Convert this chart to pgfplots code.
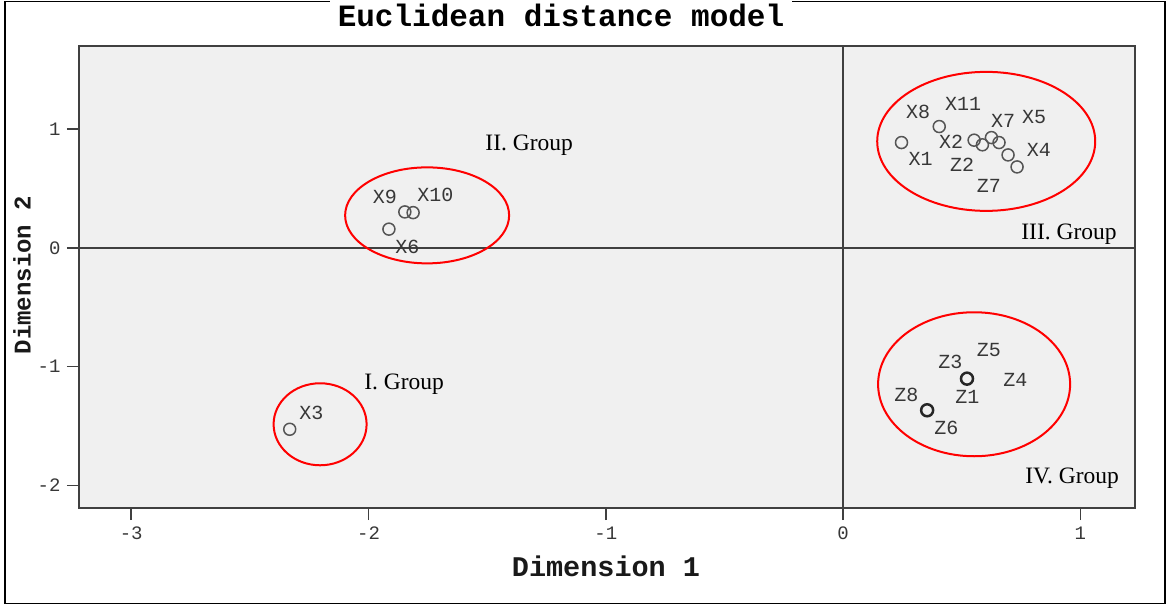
\documentclass[border=0pt]{standalone}
\usepackage{pgfplots}
\pgfplotsset{compat=1.18}
\usepackage{fontspec}
\setmainfont{Liberation Serif}
\setmonofont{Liberation Mono}
\definecolor{axgray}{RGB}{64,64,64}
\definecolor{bggray}{RGB}{240,240,240}
\definecolor{ptgray}{RGB}{85,85,85}
\definecolor{labgray}{RGB}{55,55,55}
\begin{document}
\begin{tikzpicture}[x=1pt,y=1pt]
\useasboundingbox (0,0) rectangle (1168,-606);
\begin{scope}
\clip (0,0) rectangle (1168,-606);
\draw[black, line width=1.5pt] (5,-1.5) rectangle (1165,-603.5);
\begin{axis}[
  at={(79pt,-508pt)}, anchor=south west,
  scale only axis, width=1056pt, height=462pt,
  xmin=-3.22, xmax=1.23, ymin=-2.19, ymax=1.70,
  axis background/.style={fill=bggray},
  axis line style={axgray, line width=2pt},
  xtick={-3,-2,-1,0,1}, ytick={-2,-1,0,1},
  tick pos=left, tick align=outside, major tick length=12pt,
  tick style={axgray, line width=1.5pt},
  tick label style={font=\ttfamily\fontsize{19}{19}\selectfont, text=labgray},
  xticklabel style={yshift=-3pt},
  yticklabel style={xshift=-3pt},
  /pgf/number format/assume math mode=true,
  clip=false,
]
\draw[axgray, line width=1.5pt] (axis cs:0,-2.19) -- (axis cs:0,1.70);
\draw[axgray, line width=1.5pt] (axis cs:-3.22,0) -- (axis cs:1.23,0);

% Group III
\addplot[only marks, mark=o, mark size=6pt, mark options={ptgray, line width=1.5pt}] coordinates {
(0.246,0.887) (0.405,1.022) (0.552,0.907) (0.587,0.868) (0.625,0.929) (0.657,0.887) (0.695,0.783) (0.733,0.682)
};
% Group II
\addplot[only marks, mark=o, mark size=6pt, mark options={ptgray, line width=1.5pt}] coordinates {
(-1.847,0.303) (-1.812,0.297) (-1.914,0.158)
};
% Group I
\addplot[only marks, mark=o, mark size=6pt, mark options={ptgray, line width=1.5pt}] coordinates {
(-2.332,-1.527)
};
% Group IV
\addplot[only marks, mark=o, mark size=6pt, mark options={black!85, line width=2.5pt}] coordinates {
(0.522,-1.101) (0.354,-1.367)
};

\tikzset{plab/.style={font=\ttfamily\fontsize{20}{20}\selectfont, text=labgray}}
\node[plab] at (axis cs:0.316,1.148) {X8};
\node[plab] at (axis cs:0.506,1.213) {X11};
\node[plab] at (axis cs:0.674,1.070) {X7};
\node[plab] at (axis cs:0.805,1.106) {X5};
\node[plab] at (axis cs:0.455,0.893) {X2};
\node[plab] at (axis cs:0.825,0.823) {X4};
\node[plab] at (axis cs:0.327,0.747) {X1};
\node[plab] at (axis cs:0.501,0.699) {Z2};
\node[plab] at (axis cs:0.614,0.522) {Z7};
\node[plab] at (axis cs:0.614,-0.859) {Z5};
\node[plab] at (axis cs:0.452,-0.960) {Z3};
\node[plab] at (axis cs:0.726,-1.112) {Z4};
\node[plab] at (axis cs:0.267,-1.238) {Z8};
\node[plab] at (axis cs:0.524,-1.255) {Z1};
\node[plab] at (axis cs:0.435,-1.514) {Z6};
\node[plab] at (axis cs:-1.931,0.432) {X9};
\node[plab] at (axis cs:-1.718,0.444) {X10};
\node[plab] at (axis cs:-1.836,0.011) {X6};
\node[plab] at (axis cs:-2.241,-1.386) {X3};

\draw[red, line width=2pt] (axis cs:0.603,0.897) ellipse [x radius=109pt, y radius=69.5pt];
\draw[red, line width=2pt] (axis cs:0.552,-1.148) ellipse [x radius=96pt, y radius=72pt];
\draw[red, line width=2pt] (axis cs:-1.753,0.274) ellipse [x radius=82pt, y radius=48pt];
\draw[red, line width=2pt] (axis cs:-2.204,-1.485) ellipse [x radius=46.5pt, y radius=41pt];

\tikzset{glab/.style={font=\fontsize{23.5}{23.5}\selectfont, text=black}}
\node[glab] at (axis cs:-1.323,0.868) {II. Group};
\node[glab] at (axis cs:0.952,0.118) {III. Group};
\node[glab] at (axis cs:-1.850,-1.146) {I. Group};
\node[glab] at (axis cs:0.965,-1.938) {IV. Group};
\end{axis}
\node[font=\ttfamily\bfseries\fontsize{28.5}{28.5}\selectfont, text=black!90] at (606,-566) {Dimension 1};
\node[font=\ttfamily\bfseries\fontsize{24}{24}\selectfont, text=black!90, rotate=90] at (22,-275) {Dimension 2};
\fill[white] (330,0) rectangle (792,-4);
\node[font=\ttfamily\bfseries\fontsize{31}{31}\selectfont, text=black, anchor=base, inner sep=0pt] at (561,-26) {Euclidean distance model};
\end{scope}
\end{tikzpicture}
\end{document}
